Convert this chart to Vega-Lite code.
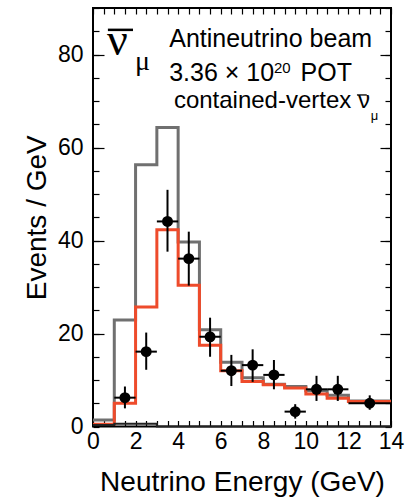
{
  "$schema": "https://vega.github.io/schema/vega-lite/v6.json",
  "width": 298,
  "height": 418.5,
  "autosize": {"type": "none"},
  "padding": {"left": 93, "top": 8, "right": 19, "bottom": 72.5},
  "background": "white",
  "config": {
    "view": {"stroke": "black", "strokeWidth": 2},
    "font": "Liberation Sans",
    "axis": {"domain": false, "grid": false, "labelColor": "black", "titleColor": "black", "tickColor": "black", "tickWidth": 1.2, "labelFont": "Liberation Sans", "titleFont": "Liberation Sans", "titleFontWeight": "normal", "labelFlush": false, "labelOverlap": false}
  },
  "datasets": {
    "gray": [
      {"e": 0, "v": 1.4}, {"e": 1, "v": 22.9}, {"e": 2, "v": 56.3}, {"e": 3, "v": 64.3},
      {"e": 4, "v": 39.7}, {"e": 5, "v": 20.8}, {"e": 6, "v": 13.8}, {"e": 7, "v": 10.5},
      {"e": 8, "v": 9.1}, {"e": 9, "v": 8.6}, {"e": 10, "v": 7.7}, {"e": 11, "v": 6.7},
      {"e": 12, "v": 5.5}, {"e": 14, "v": 5.5}
    ],
    "red": [
      {"e": 0, "v": 0.5}, {"e": 1, "v": 5.0}, {"e": 2, "v": 25.7}, {"e": 3, "v": 42.3},
      {"e": 4, "v": 30.4}, {"e": 5, "v": 17.5}, {"e": 6, "v": 12.0}, {"e": 7, "v": 9.7},
      {"e": 8, "v": 9.0}, {"e": 9, "v": 8.3}, {"e": 10, "v": 7.0}, {"e": 11, "v": 6.1},
      {"e": 12, "v": 5.4}, {"e": 14, "v": 5.4}
    ],
    "bg": [
      {"e": 0, "v": 0.3}, {"e": 1, "v": 0.6}, {"e": 2, "v": 0.6}, {"e": 3, "v": 0.0}, {"e": 14, "v": 0.0}
    ],
    "points": [
      {"x": 1.5, "y": 6.2, "ylo": 3.9, "yhi": 8.6, "xlo": 1, "xhi": 2},
      {"x": 2.5, "y": 16.1, "ylo": 12.2, "yhi": 20.2, "xlo": 2, "xhi": 3},
      {"x": 3.5, "y": 44.1, "ylo": 37.6, "yhi": 50.9, "xlo": 3, "xhi": 4},
      {"x": 4.5, "y": 36.1, "ylo": 30.3, "yhi": 41.9, "xlo": 4, "xhi": 5},
      {"x": 5.5, "y": 19.3, "ylo": 15.0, "yhi": 23.4, "xlo": 5, "xhi": 6},
      {"x": 6.5, "y": 12.0, "ylo": 8.7, "yhi": 15.4, "xlo": 6, "xhi": 7},
      {"x": 7.5, "y": 13.2, "ylo": 9.6, "yhi": 16.6, "xlo": 7, "xhi": 8},
      {"x": 8.5, "y": 11.1, "ylo": 8.0, "yhi": 14.3, "xlo": 8, "xhi": 9},
      {"x": 9.5, "y": 3.2, "ylo": 1.7, "yhi": 4.8, "xlo": 9, "xhi": 10},
      {"x": 10.5, "y": 8.0, "ylo": 5.5, "yhi": 10.9, "xlo": 10, "xhi": 11},
      {"x": 11.5, "y": 8.0, "ylo": 5.5, "yhi": 10.9, "xlo": 11, "xhi": 12},
      {"x": 13.0, "y": 5.0, "ylo": 3.6, "yhi": 6.7, "xlo": 12, "xhi": 14}
    ]
  },
  "layer": [
    {
      "data": {"name": "gray"},
      "mark": {"type": "line", "interpolate": "step-after", "color": "#707070", "strokeWidth": 3, "strokeJoin": "miter"},
      "encoding": {
        "x": {"field": "e", "type": "quantitative", "scale": {"domain": [0, 14], "nice": false, "zero": false},
          "axis": {"orient": "bottom", "values": [0, 2, 4, 6, 8, 10, 12, 14], "format": "d", "ticks": false, "labelFontSize": 23, "labelPadding": 3.5, "title": "Neutrino Energy (GeV)", "titleFontSize": 28, "titlePadding": 15}},
        "y": {"field": "v", "type": "quantitative", "scale": {"domain": [0, 90], "nice": false},
          "axis": {"orient": "left", "values": [0, 20, 40, 60, 80], "format": "d", "ticks": false, "labelFontSize": 23, "labelPadding": 10, "title": "Events / GeV", "titleFontSize": 28, "titlePadding": 6}}
      }
    },
    {
      "data": {"name": "red"},
      "mark": {"type": "line", "interpolate": "step-after", "color": "#ee4b2b", "strokeWidth": 3, "strokeJoin": "miter"},
      "encoding": {
        "x": {"field": "e", "type": "quantitative",
          "axis": {"orient": "bottom", "values": [0, 0.5, 1, 1.5, 2, 2.5, 3, 3.5, 4, 4.5, 5, 5.5, 6, 6.5, 7, 7.5, 8, 8.5, 9, 9.5, 10, 10.5, 11, 11.5, 12, 12.5, 13, 13.5, 14], "labels": false, "tickSize": -6, "title": null}},
        "y": {"field": "v", "type": "quantitative",
          "axis": {"orient": "left", "values": [0, 5, 10, 15, 20, 25, 30, 35, 40, 45, 50, 55, 60, 65, 70, 75, 80, 85, 90], "labels": false, "tickSize": -6, "title": null}}
      }
    },
    {
      "data": {"name": "bg"},
      "mark": {"type": "line", "interpolate": "step-after", "color": "#222222", "strokeWidth": 2, "strokeJoin": "miter"},
      "encoding": {
        "x": {"field": "e", "type": "quantitative",
          "axis": {"orient": "top", "values": [0, 0.5, 1, 1.5, 2, 2.5, 3, 3.5, 4, 4.5, 5, 5.5, 6, 6.5, 7, 7.5, 8, 8.5, 9, 9.5, 10, 10.5, 11, 11.5, 12, 12.5, 13, 13.5, 14], "labels": false, "tickSize": -6, "title": null}},
        "y": {"field": "v", "type": "quantitative",
          "axis": {"orient": "right", "values": [0, 5, 10, 15, 20, 25, 30, 35, 40, 45, 50, 55, 60, 65, 70, 75, 80, 85, 90], "labels": false, "tickSize": -6, "title": null}}
      }
    },
    {
      "data": {"name": "points"},
      "mark": {"type": "rule", "color": "black", "strokeWidth": 2},
      "encoding": {
        "x": {"field": "x", "type": "quantitative", "axis": null},
        "y": {"field": "ylo", "type": "quantitative",
          "axis": {"orient": "left", "values": [20, 40, 60, 80], "labels": false, "tickSize": -11, "title": null}},
        "y2": {"field": "yhi"}
      }
    },
    {
      "data": {"name": "points"},
      "mark": {"type": "rule", "color": "black", "strokeWidth": 2},
      "encoding": {
        "x": {"field": "xlo", "type": "quantitative", "axis": null},
        "x2": {"field": "xhi"},
        "y": {"field": "y", "type": "quantitative",
          "axis": {"orient": "right", "values": [20, 40, 60, 80], "labels": false, "tickSize": -11, "title": null}}
      }
    },
    {
      "data": {"name": "points"},
      "mark": {"type": "point", "shape": "circle", "filled": true, "color": "black", "opacity": 1, "size": 120},
      "encoding": {
        "x": {"field": "x", "type": "quantitative", "axis": null},
        "y": {"field": "y", "type": "quantitative", "axis": null}
      }
    },
    {
      "data": {"values": [{"t": "ν"}]},
      "mark": {"type": "text", "font": "Liberation Serif", "fontSize": 46, "align": "left", "baseline": "alphabetic", "color": "black"},
      "encoding": {
        "x": {"datum": 0.66, "type": "quantitative", "axis": null},
        "y": {"datum": 79.9, "type": "quantitative", "axis": null},
        "text": {"field": "t"}
      }
    },
    {
      "data": {"values": [{"t": "bar"}]},
      "mark": {"type": "rule", "color": "black", "strokeWidth": 2.5},
      "encoding": {
        "x": {"datum": 0.7, "type": "quantitative", "axis": null},
        "x2": {"datum": 1.88},
        "y": {"datum": 85.3, "type": "quantitative", "axis": null}
      }
    },
    {
      "data": {"values": [{"t": "μ"}]},
      "mark": {"type": "text", "font": "Liberation Serif", "fontSize": 28, "align": "left", "baseline": "alphabetic", "color": "black"},
      "encoding": {
        "x": {"datum": 1.97, "type": "quantitative", "axis": null},
        "y": {"datum": 76.6, "type": "quantitative", "axis": null},
        "text": {"field": "t"}
      }
    },
    {
      "data": {"values": [{"t": "Antineutrino beam"}]},
      "mark": {"type": "text", "fontSize": 25, "align": "left", "baseline": "alphabetic", "color": "black"},
      "encoding": {
        "x": {"datum": 3.58, "type": "quantitative", "axis": null},
        "y": {"datum": 81.6, "type": "quantitative", "axis": null},
        "text": {"field": "t"}
      }
    },
    {
      "data": {"values": [{"t": "3.36 × 10"}]},
      "mark": {"type": "text", "fontSize": 25, "align": "left", "baseline": "alphabetic", "color": "black"},
      "encoding": {
        "x": {"datum": 3.58, "type": "quantitative", "axis": null},
        "y": {"datum": 74.3, "type": "quantitative", "axis": null},
        "text": {"field": "t"}
      }
    },
    {
      "data": {"values": [{"t": "20"}]},
      "mark": {"type": "text", "fontSize": 15, "align": "left", "baseline": "alphabetic", "color": "black"},
      "encoding": {
        "x": {"datum": 8.5, "type": "quantitative", "axis": null},
        "y": {"datum": 76.0, "type": "quantitative", "axis": null},
        "text": {"field": "t"}
      }
    },
    {
      "data": {"values": [{"t": "POT"}]},
      "mark": {"type": "text", "fontSize": 25, "align": "left", "baseline": "alphabetic", "color": "black"},
      "encoding": {
        "x": {"datum": 9.75, "type": "quantitative", "axis": null},
        "y": {"datum": 74.3, "type": "quantitative", "axis": null},
        "text": {"field": "t"}
      }
    },
    {
      "data": {"values": [{"t": "contained-vertex ν"}]},
      "mark": {"type": "text", "fontSize": 24, "align": "left", "baseline": "alphabetic", "color": "black"},
      "encoding": {
        "x": {"datum": 3.8, "type": "quantitative", "axis": null},
        "y": {"datum": 68.5, "type": "quantitative", "axis": null},
        "text": {"field": "t"}
      }
    },
    {
      "data": {"values": [{"t": "bar"}]},
      "mark": {"type": "rule", "color": "black", "strokeWidth": 1.3},
      "encoding": {
        "x": {"datum": 12.4, "type": "quantitative", "axis": null},
        "x2": {"datum": 12.86},
        "y": {"datum": 71.3, "type": "quantitative", "axis": null}
      }
    },
    {
      "data": {"values": [{"t": "μ"}]},
      "mark": {"type": "text", "fontSize": 13, "align": "left", "baseline": "alphabetic", "color": "black"},
      "encoding": {
        "x": {"datum": 13.05, "type": "quantitative", "axis": null},
        "y": {"datum": 66.0, "type": "quantitative", "axis": null},
        "text": {"field": "t"}
      }
    }
  ],
  "resolve": {"axis": {"x": "independent", "y": "independent"}}
}
